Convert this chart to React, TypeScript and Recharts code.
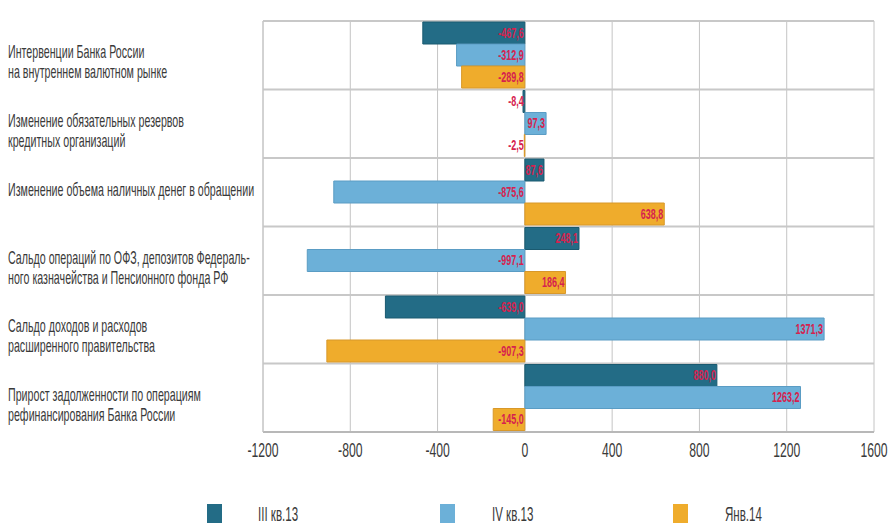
import React from "react";
import {
  BarChart,
  Bar,
  XAxis,
  YAxis,
  CartesianGrid,
  Legend,
  LabelList,
} from "recharts";

const categories = [
  "Интервенции Банка России\nна внутреннем валютном рынке",
  "Изменение обязательных резервов\nкредитных организаций",
  "Изменение объема наличных денег в обращении",
  "Сальдо операций по ОФЗ, депозитов Федераль-\nного казначейства и Пенсионного фонда РФ",
  "Сальдо доходов и расходов\nрасширенного правительства",
  "Прирост задолженности по операциям\nрефинансирования Банка России",
];
const q3_13 = [-467.6, -8.4, 87.6, 248.1, -639.0, 880.0];
const q4_13 = [-312.9, 97.3, -875.6, -997.1, 1371.3, 1263.2];
const jan14 = [-289.8, -2.5, 638.8, 186.4, -907.3, -145.0];
const xTicks = [-1200, -800, -400, 0, 400, 800, 1200, 1600];
const seriesNames = ["III кв.13", "IV кв.13", "Янв.14"];
const seriesKeys = ["q3", "q4", "jan"];
const seriesColors = ["#236c86", "#6cb0d8", "#efac2c"];
const seriesStrokes = ["#1a5a70", "#5a9cc4", "#d8982a"];

const data = categories.map((c, i) => ({
  name: c,
  q3: q3_13[i],
  q4: q4_13[i],
  jan: jan14[i],
}));

const FONT = "'Liberation Sans', Arial, sans-serif";
const LABEL_RED = "#d6224e";
const TEXT = "#3a3a3a";

const fmt = (v: number) => v.toFixed(1).replace(".", ",");

const BarValueLabel = (props: any) => {
  const { x, y, width, height, value } = props;
  const right = Math.max(x, x + width);
  return (
    <g transform={`translate(${right - 1}, ${y + height / 2}) scale(0.6, 1)`}>
      <text
        x={0}
        y={0}
        textAnchor="end"
        dominantBaseline="central"
        fill={LABEL_RED}
        fontSize={15}
        fontWeight={600}
        fontFamily={FONT}
      >
        {fmt(value)}
      </text>
    </g>
  );
};

const CategoryTick = (props: any) => {
  const { y, payload } = props;
  const lines = String(payload.value).split("\n");
  const startY = lines.length === 1 ? y - 2 : y - 3;
  return (
    <g transform={`translate(8, ${startY}) scale(0.61, 1)`}>
      <text x={0} y={0} fill={TEXT} fontSize={17.5} fontFamily={FONT} textAnchor="start" dominantBaseline="central">
        {lines.map((l, i) => (
          <tspan key={i} x={0} dy={i === 0 ? 0 : 20}>
            {l}
          </tspan>
        ))}
      </text>
    </g>
  );
};

const NumTick = (props: any) => {
  const { x, y, payload } = props;
  return (
    <g transform={`translate(${x}, ${y + 10}) scale(0.58, 1)`}>
      <text x={0} y={0} fill={TEXT} fontSize={21} fontFamily={FONT} textAnchor="middle" dominantBaseline="central">
        {payload.value}
      </text>
    </g>
  );
};

const LegendContent = () => {
  const squareLefts = [207, 440, 673];
  const textLefts = [258, 492, 725];
  return (
    <div style={{ position: "relative", width: 892, height: 23 }}>
      {seriesNames.map((n, i) => (
        <React.Fragment key={n}>
          <div
            style={{
              position: "absolute",
              left: squareLefts[i],
              top: 0,
              width: 15,
              height: 19,
              background: seriesColors[i],
            }}
          />
          <span
            style={{
              position: "absolute",
              left: textLefts[i],
              top: -1,
              fontFamily: FONT,
              fontSize: 21,
              lineHeight: "21px",
              color: TEXT,
              whiteSpace: "nowrap",
              transform: "scale(0.55, 1)",
              transformOrigin: "left center",
            }}
          >
            {n}
          </span>
        </React.Fragment>
      ))}
    </div>
  );
};

export default function App() {
  return (
    <div style={{ position: "absolute", left: 0, top: 0, width: 892, height: 527, background: "#fff" }}>
      <BarChart
        width={892}
        height={527}
        data={data}
        layout="vertical"
        margin={{ top: 21, right: 18, bottom: 42, left: 0 }}
        barCategoryGap={1}
        barGap={0}
      >
        <CartesianGrid horizontal={false} vertical={true} stroke="#c4c4c4" strokeWidth={1} />
        <CartesianGrid
          vertical={false}
          horizontal={true}
          stroke="#c8c8c8"
          strokeWidth={2}
          horizontalCoordinatesGenerator={({ offset }: any) =>
            categories
              .map((_, i) => offset.top + (i * offset.height) / categories.length)
              .concat([offset.top + offset.height])
          }
        />
        <XAxis
          type="number"
          domain={[-1200, 1600]}
          ticks={xTicks}
          tick={<NumTick />}
          tickLine={false}
          axisLine={{ stroke: "#b8b8b8", strokeWidth: 2 }}
          height={30}
        />
        <YAxis
          type="category"
          dataKey="name"
          width={263}
          tick={<CategoryTick />}
          tickLine={false}
          axisLine={{ stroke: "#c4c4c4" }}
          interval={0}
        />
        <Legend verticalAlign="bottom" content={<LegendContent />} wrapperStyle={{ left: 0, bottom: 0, width: 892 }} />
        {seriesKeys.map((k, i) => (
          <Bar
            key={k}
            dataKey={k}
            name={seriesNames[i]}
            fill={seriesColors[i]}
            stroke={seriesStrokes[i]}
            strokeWidth={1}
            isAnimationActive={false}
          >
            <LabelList dataKey={k} content={<BarValueLabel />} />
          </Bar>
        ))}
      </BarChart>
    </div>
  );
}
